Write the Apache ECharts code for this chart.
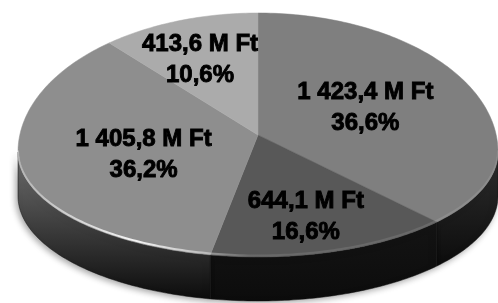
<!DOCTYPE html>
<html>
<head>
<meta charset="utf-8">
<script src="https://cdn.jsdelivr.net/npm/echarts@6/dist/echarts.min.js"></script>
<style>
  html, body { margin: 0; padding: 0; background: #fff; }
  #chart { width: 498px; height: 303px; }
</style>
</head>
<body>
<div id="chart"></div>
<script>
// slices, clockwise from 12 o'clock
var values = [1423.4, 644.1, 1405.8, 413.6];
var unit = 'M Ft';
var topColors = ['#7f7f7f', '#585858', '#8e8e8e', '#ababab'];
var sideColors = ['#2e2e2e', '#141414', '#707070', '#8a8a8a'];
// label placement: fraction of the way from centre to rim, plus a small nudge
var labelRadius = [0.49, 0.7, 0.49, 0.66];
var labelNudge = [[0, -8], [-5, 0], [0, 0], [-6, 0]];

var total = values.reduce(function (a, b) { return a + b; }, 0);

function fmtNum(v) {
    var s = v.toFixed(1).split('.');
    var intPart = s[0].replace(/\B(?=(\d{3})+(?!\d))/g, ' ');
    return intPart + ',' + s[1];
}
function fmtPct(v) {
    return (v / total * 100).toFixed(1).replace('.', ',') + '%';
}

// start / end angle of each slice (radians, clockwise from top)
var angles = [];
var acc = 0;
values.forEach(function (v) {
    var a0 = acc / total * Math.PI * 2;
    acc += v;
    angles.push([a0, acc / total * Math.PI * 2]);
});

// tilted disc with a little perspective: far half taller than near half
var geo = { cx: 258, apexY: 135, wideY: 152, rx: 240, ryBack: 139, ryFront: 105, depth: 44 };

function rim(theta, dy) {
    var c = Math.cos(theta);
    var ry = c > 0 ? geo.ryBack : geo.ryFront;
    return [geo.cx + geo.rx * Math.sin(theta), geo.wideY - ry * c + (dy || 0)];
}
function arc(a0, a1, dy) {
    var pts = [];
    var n = Math.max(2, Math.ceil((a1 - a0) / (Math.PI / 180)));
    for (var i = 0; i <= n; i++) {
        pts.push(rim(a0 + (a1 - a0) * i / n, dy));
    }
    return pts;
}

function renderSide(params, api) {
    var i = params.dataIndex;
    var a0 = Math.max(angles[i][0], Math.PI / 2);
    var a1 = Math.min(angles[i][1], Math.PI * 1.5);
    if (a1 <= a0) return { type: 'group', children: [] };
    var top = arc(a0, a1, 0);
    var bottom = arc(a0, a1, geo.depth).reverse();
    var c = sideColors[i];
    return {
        type: 'polygon',
        shape: { points: top.concat(bottom) },
        style: {
            fill: {
                type: 'linear', x: 0, y: 0, x2: 0, y2: 1,
                colorStops: [{ offset: 0, color: c }, { offset: 1, color: '#0c0c0c' }]
            },
            stroke: '#111', lineWidth: 0.5,
            shadowColor: 'rgba(0,0,0,0.35)', shadowBlur: 6, shadowOffsetX: -2, shadowOffsetY: 2
        }
    };
}

function renderTop(params, api) {
    var i = params.dataIndex;
    var a0 = angles[i][0], a1 = angles[i][1];
    var pts = [[geo.cx, geo.apexY]].concat(arc(a0, a1, 0));
    var edge = rim((a0 + a1) / 2, 0);
    var r = labelRadius[i];
    var lx = geo.cx + (edge[0] - geo.cx) * r + labelNudge[i][0];
    var ly = geo.apexY + (edge[1] - geo.apexY) * r + labelNudge[i][1];
    var children = [{
        type: 'polygon',
        shape: { points: pts },
        style: { fill: topColors[i], stroke: topColors[i], lineWidth: 0.5 }
    }, {
        type: 'text',
        x: lx, y: ly,
        z2: 100,
        style: {
            text: fmtNum(api.value(0)) + ' ' + unit + '\n' + fmtPct(api.value(0)),
            fill: '#000',
            stroke: '#000',
            lineWidth: 0.9,
            fontFamily: 'Liberation Sans',
            fontWeight: 'bold',
            fontSize: 24,
            lineHeight: 31,
            align: 'center',
            verticalAlign: 'middle'
        }
    }];
    // bevel highlight along the near rim, bright on the lit left side
    var f0 = Math.max(a0, Math.PI / 2), f1 = Math.min(a1, Math.PI * 1.5);
    if (f1 > f0) {
        children.push({
            type: 'polyline',
            z2: 50,
            shape: { points: arc(f0, f1, -1.5) },
            style: {
                fill: null, lineWidth: 2,
                stroke: {
                    type: 'linear', x: 20, y: 0, x2: 250, y2: 0, global: true,
                    colorStops: [{ offset: 0, color: 'rgba(255,255,255,0.35)' }, { offset: 0.5, color: 'rgba(255,255,255,0.9)' }, { offset: 1, color: 'rgba(255,255,255,0.1)' }]
                }
            }
        });
    }
    return { type: 'group', children: children };
}

var chart = echarts.init(document.getElementById('chart'));
chart.setOption({
    animation: false,
    backgroundColor: '#fff',
    series: [{
        type: 'custom',
        coordinateSystem: 'none',
        silent: true,
        z: 1,
        renderItem: renderSide,
        data: values.map(function (v) { return [v]; })
    }, {
        type: 'custom',
        coordinateSystem: 'none',
        silent: true,
        z: 2,
        renderItem: renderTop,
        data: values.map(function (v) { return [v]; })
    }]
});
</script>
</body>
</html>
